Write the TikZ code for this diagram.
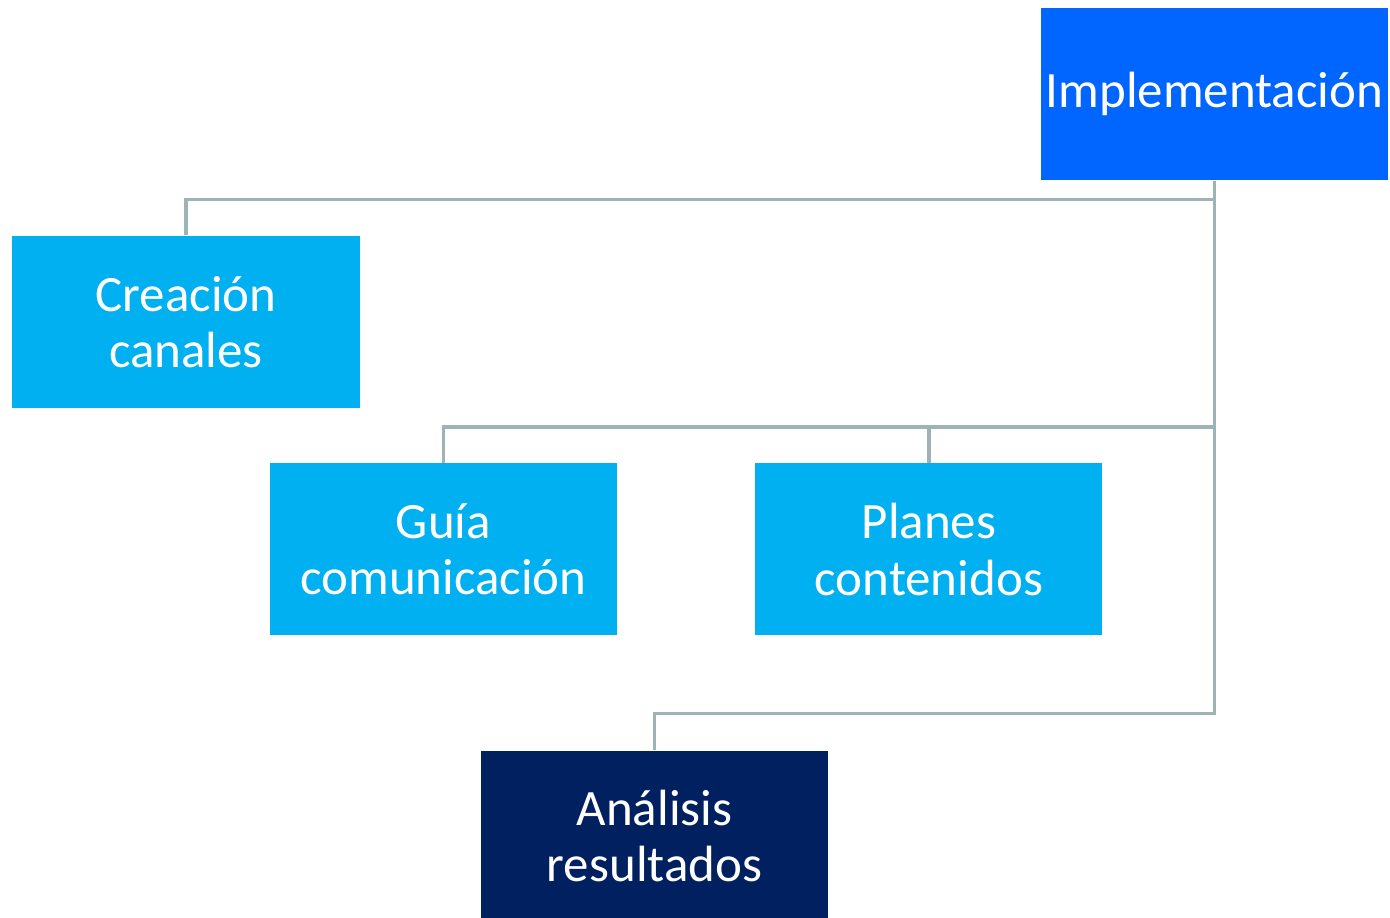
\documentclass[tikz,border=0pt]{standalone}
\usepackage{fontspec}
\setmainfont{Carlito}
\usepackage{tikz}
\usetikzlibrary{positioning,calc}
\usepackage{xcolor}
\definecolor{plBlue}{HTML}{0066FF}
\definecolor{plSky}{HTML}{00B0F0}
\definecolor{plNavy}{HTML}{002060}
\definecolor{plGrey}{HTML}{9DB3B5}
\tikzset{
  blk/.style={fill=plSky, draw=none, minimum width=3.47cm, minimum height=1.72cm, inner xsep=0.5pt, inner ysep=2pt, text=white, align=center, font=\fontsize{14.5}{16}\selectfont},
  blkTop/.style={blk, fill=plBlue},
  blkEnd/.style={blk, fill=plNavy, minimum height=1.70cm},
  conn/.style={draw=plGrey, line width=1pt},
}
\begin{document}
\begin{tikzpicture}
        \useasboundingbox (0,0) rectangle (13.90,9.18);
        \node[blkTop] (impl) at (12.145,8.24) {Implementación};
        \node[blk] (crea) at (1.86,5.96) {Creación\\canales};
        \node[blk] (guia) at (4.435,3.685) {Guía\\comunicación};
        \node[blk, right=1.37cm of guia] (plan) {Planes\\contenidos};
        \node[blkEnd] (anal) at (6.545,0.82) {Análisis\\resultados};
        \draw[conn] (crea.north) -- ++(0,0.36) -| (impl.south); \draw[conn] (guia.north) -- ++(0,0.36) -| (impl.south);
        \draw[conn] (plan.north) -- ++(0,0.36) -| (impl.south); \draw[conn] (anal.north) -- ++(0,0.37) -| (impl.south);
    \end{tikzpicture}
\end{document}
